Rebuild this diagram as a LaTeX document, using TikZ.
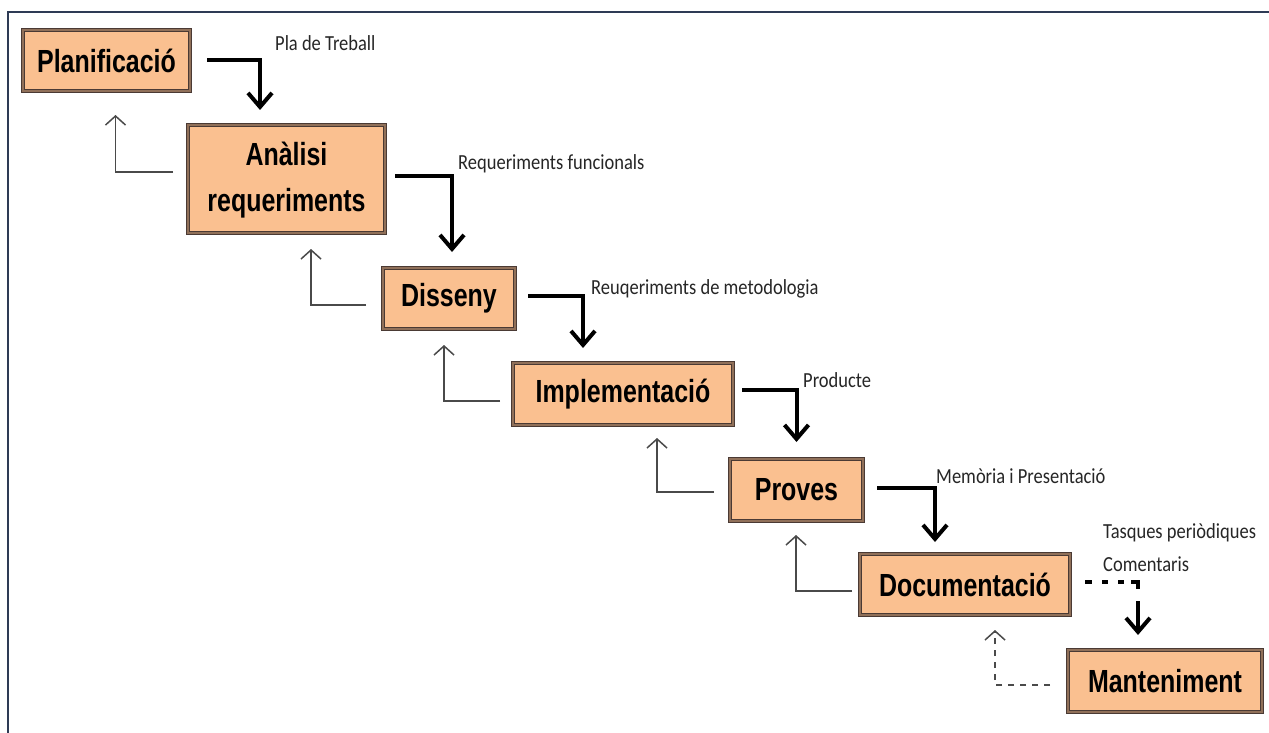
\documentclass[tikz,border=0pt]{standalone}
\usepackage{fontspec}
\setmainfont{Liberation Sans}
\newfontfamily\boxfont[FakeStretch=0.78]{Liberation Sans}
\newfontfamily\labfont[FakeStretch=0.86]{Carlito}
\usetikzlibrary{arrows.meta}
\definecolor{peach}{HTML}{FAC090}
\definecolor{bord}{HTML}{4A3A34}
\definecolor{framec}{HTML}{2E3B55}
\definecolor{backc}{HTML}{4A4A4A}
\begin{document}
\begin{tikzpicture}[x=1pt,y=-1pt,
  stage/.style={draw=bord, line width=1.6pt, double=bord!60!peach, double distance=1.3pt,
    fill=peach, inner sep=0pt, outer sep=0pt, align=center,
    font=\boxfont\bfseries\fontsize{32}{46}\selectfont},
  fwd/.style={line width=4pt, -{Straight Barb[length=14pt,width=24pt]}},
  back/.style={draw=backc, line width=1.5pt, -{Straight Barb[length=9pt,width=20pt]}},
  lab/.style={font=\labfont\fontsize{21.5}{30}\selectfont, text=black!85, anchor=base west, inner sep=0pt}]
\useasboundingbox (0,0) rectangle (1269,733);
\fill[white] (0,0) rectangle (1269,733);
\draw[framec, line width=2.2pt] (8,733) -- (8,12) -- (1269,12);

% stages
\node[stage, minimum width=167, minimum height=61] (plan) at (106.5,60.5) {Planificació};
\node[stage, minimum width=197, minimum height=108] (anal) at (286.5,179)
  {\raisebox{-7pt}{\begin{tabular}{@{}c@{}}Anàlisi\\requeriments\end{tabular}}};
\node[stage, minimum width=132, minimum height=61] (diss) at (449,298.5) {Disseny};
\node[stage, minimum width=220, minimum height=62] (impl) at (623,394) {Implementació};
\node[stage, minimum width=133, minimum height=62] (prov) at (796.5,490) {Proves};
\node[stage, minimum width=210, minimum height=61] (doc) at (965,584.5) {Documentació};
\node[stage, minimum width=194, minimum height=62] (mant) at (1165,681) {Manteniment};

% forward arrows
\draw[fwd] ([xshift=17pt]plan.east) -| ([xshift=-26.5pt,yshift=15pt]anal.north);
\draw[fwd] ([xshift=10pt,yshift=3pt]anal.east) -| ([xshift=3pt,yshift=16pt]diss.north);
\draw[fwd] ([xshift=13pt,yshift=2.5pt]diss.east) -| ([xshift=-40pt,yshift=15pt]impl.north);
\draw[fwd] ([xshift=9pt,yshift=4pt]impl.east) -| ([xshift=0pt,yshift=17pt]prov.north);
\draw[fwd] ([xshift=14pt,yshift=2pt]prov.east) -| ([xshift=-30pt,yshift=12pt]doc.north);
\draw[fwd, dash pattern=on 7pt off 10pt on 6pt off 10pt on 6pt off 7pt on 14pt off 12pt on 60pt]
  ([xshift=15pt,yshift=2.5pt]doc.east) -| ([xshift=-27pt,yshift=15pt]mant.north);

% feedback arrows
\draw[back] ([xshift=-15pt,yshift=7pt]anal.west) -| ([xshift=9pt,yshift=-24pt]plan.south);
\draw[back] ([xshift=-17pt,yshift=-6.5pt]diss.west) -| ([xshift=24.5pt,yshift=-16pt]anal.south);
\draw[back] ([xshift=-13pt,yshift=-7pt]impl.west) -| ([xshift=-5pt,yshift=-16pt]diss.south);
\draw[back] ([xshift=-16pt,yshift=-2pt]prov.west) -| ([xshift=34pt,yshift=-13pt]impl.south);
\draw[back] ([xshift=-8pt,yshift=-6.5pt]doc.west) -| ([xshift=-0.5pt,yshift=-14pt]prov.south);
\draw[back, dash pattern=on 6pt off 6pt] ([xshift=-18pt,yshift=-4pt]mant.west) -| ([xshift=30pt,yshift=-15pt]doc.south);

% labels
\node[lab] (l1) at (275,51) {Pla de Treball};
\node[lab] (l2) at (458,169) {Requeriments funcionals};
\node[lab] (l3) at (591,294) {Reuqeriments de metodologia};
\node[lab] (l4) at (803,387) {Producte};
\node[lab] (l5) at (936,483) {Memòria i Presentació};
\node[lab] (l6) at (1103,538) {Tasques periòdiques};
\node[lab] (l7) at (1103,571) {Comentaris};
\end{tikzpicture}
\end{document}
